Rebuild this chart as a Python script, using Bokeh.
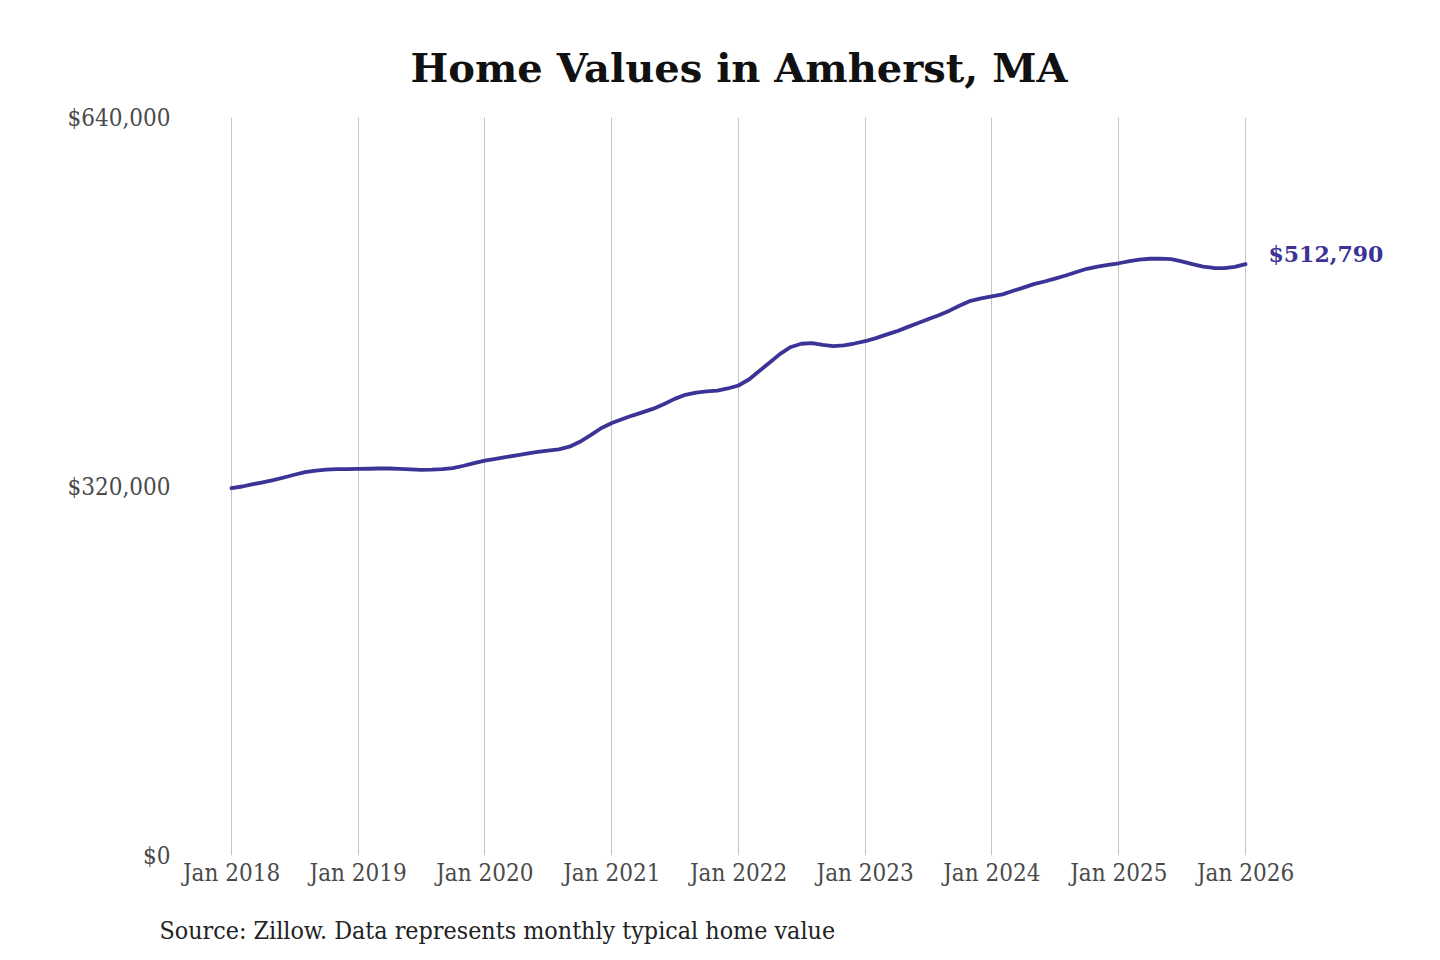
import datetime as dt
from bokeh.plotting import figure
from bokeh.layouts import column
from bokeh.models import (ColumnDataSource, FixedTicker, CustomJSTickFormatter,
                          Label, Range1d, NumeralTickFormatter, Title)
from bokeh.embed import file_html
from bokeh.resources import INLINE

# ---- data (monthly typical home value, Jan 2018 - Jan 2026) ----
start_year = 2018
values = [
    318500, 320000, 321800, 323600, 325500, 327800, 330200, 332400, 333800, 334700, 335000, 335100,
    335200, 335400, 335600, 335600, 335200, 334800, 334500, 334600, 335000, 336000, 338000, 340300,
    342500, 344000, 345500, 347000, 348500, 350000, 351200, 352200, 354500, 358800, 364500, 370500,
    375000, 378500, 381500, 384500, 387500, 391500, 396000, 399500, 401500, 402500, 403200, 405000,
    407600, 413000, 420000, 427500, 435000, 441000, 443800, 444300, 442800, 441800, 442300, 444000,
    446000, 448700, 451500, 454500, 458000, 461500, 465000, 468500, 472500, 477000, 481000, 483200,
    484800, 486600, 489500, 492500, 495500, 497800, 500300, 503000, 506000, 508800, 510700, 512200,
    513600, 515500, 516800, 517500, 517700, 517100, 515300, 512800, 510700, 509500, 509300, 510500,
    512790,
]
dates = [dt.datetime(start_year + i // 12, i % 12 + 1, 1) for i in range(len(values))]
tick_years = list(range(2018, 2027))
y_ticks = [0, 320000, 640000]
title_text = "Home Values in Amherst, MA"
source_text = "Source: Zillow. Data represents monthly typical home value"
end_label = "$512,790"

LINE_COLOR = "#3b3396"
SERIF = "DejaVu Serif"
SERIF_C = "DejaVu Serif Condensed"

def ms(d):
    return (d - dt.datetime(1970, 1, 1)).total_seconds() * 1000.0

W, H1, H2 = 1440, 900, 60
FL, FR, FT, FB = 180, 1400, 117, 855   # frame edges on the page
t0 = ms(dt.datetime(2018, 1, 1))
t1 = ms(dt.datetime(2026, 1, 1))
span = (t1 - t0) / (1245 - 231)
x_start = t0 - (231 - FL) * span
x_end = t0 + (FR - 231) * span

p = figure(width=W, height=H1, x_axis_type="datetime", output_backend="svg",
           toolbar_location=None, x_range=Range1d(x_start, x_end),
           y_range=Range1d(0, 640000))
p.min_border_left = FL
p.min_border_right = W - FR
p.min_border_top = FT
p.min_border_bottom = H1 - FB
p.outline_line_color = None
p.background_fill_color = "white"
p.border_fill_color = "white"

src = ColumnDataSource(dict(x=dates, y=values))
p.line("x", "y", source=src, line_color=LINE_COLOR, line_width=3.8,
       line_join="round", line_cap="round")

# axes
p.xaxis.ticker = FixedTicker(ticks=[ms(dt.datetime(y, 1, 1)) for y in tick_years])
p.xaxis.formatter = CustomJSTickFormatter(code="""
    const d = new Date(tick);
    return 'Jan ' + d.getUTCFullYear();
""")
p.yaxis.ticker = FixedTicker(ticks=y_ticks)
p.yaxis.formatter = NumeralTickFormatter(format="$0,0")
for ax in (p.xaxis[0], p.yaxis[0]):
    ax.axis_line_color = None
    ax.major_tick_line_color = None
    ax.minor_tick_line_color = None
    ax.major_tick_out = 0
    ax.major_tick_in = 0
    ax.minor_tick_out = 0
    ax.major_label_text_font = SERIF_C
    ax.major_label_text_font_size = "24px"
    ax.major_label_text_color = "#4a4a4a"
p.xaxis.major_label_standoff = 3
p.yaxis.major_label_standoff = 10

p.xgrid.grid_line_color = "#c4c4c4"
p.xgrid.grid_line_width = 1
p.ygrid.grid_line_color = None

# end label
p.add_layout(Label(x=dates[-1], y=values[-1], text=end_label, x_offset=23, y_offset=10,
                   text_font=SERIF, text_font_style="bold", text_font_size="22px",
                   text_color=LINE_COLOR, text_baseline="middle", text_align="left"))

# title
p.title = Title(text=title_text, text_font=SERIF, text_font_style="bold",
                text_font_size="40px", text_color="#111111", align="left",
                offset=410 - FL, standoff=54)

# source note in a strip below the chart (frame aligned with the chart above)
p2 = figure(width=W, height=H2, output_backend="svg", toolbar_location=None,
            x_axis_type=None, y_axis_type=None,
            x_range=Range1d(0, 1), y_range=Range1d(0, 1))
p2.min_border_left = FL
p2.min_border_right = W - FR
p2.min_border_top = 44
p2.min_border_bottom = 0
p2.outline_line_color = None
p2.grid.visible = False
p2.background_fill_color = "white"
p2.border_fill_color = "white"
p2.title = Title(text=source_text, text_font=SERIF_C, text_font_style="normal",
                 text_font_size="24.8px", text_color="#222222", align="left",
                 offset=159 - FL, standoff=0)

open("out.html", "w").write(file_html(column(p, p2, spacing=0), INLINE))
